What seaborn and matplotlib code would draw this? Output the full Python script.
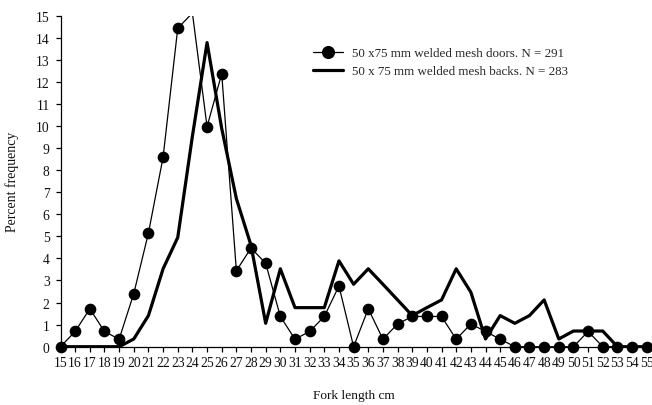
import numpy as np
import pandas as pd
import matplotlib
matplotlib.use("Agg")
import matplotlib.pyplot as plt
from matplotlib.lines import Line2D
import seaborn as sns

# Fork length classes (cm)
fork_length = list(range(15, 56))

# Percent frequency, 50 x 75 mm welded mesh doors (N = 291)
doors_pct = [0.00, 0.69, 1.72, 0.69, 0.34, 2.41, 5.15, 8.59, 14.43, 15.12,
             9.97, 12.37, 3.44, 4.47, 3.78, 1.37, 0.34, 0.69, 1.37, 2.75,
             0.00, 1.72, 0.34, 1.03, 1.37, 1.37, 1.37, 0.34, 1.03, 0.69,
             0.34, 0.00, 0.00, 0.00, 0.00, 0.00, 0.69, 0.00, 0.00, 0.00,
             0.00]

# Percent frequency, 50 x 75 mm welded mesh backs (N = 283)
backs_pct = [0.00, 0.00, 0.00, 0.00, 0.00, 0.35, 1.41, 3.53, 4.95, 9.54,
             13.78, 9.89, 6.71, 4.59, 1.06, 3.53, 1.77, 1.77, 1.77, 3.89,
             2.83, 3.53, 2.83, 2.12, 1.41, 1.77, 2.12, 3.53, 2.47, 0.35,
             1.41, 1.06, 1.41, 2.12, 0.35, 0.71, 0.71, 0.71, 0.00, 0.00,
             0.00]

doors_label = "50 x75 mm welded mesh doors. N = 291"
backs_label = "50 x 75 mm welded mesh backs. N = 283"

Y_MAX = 15

df = pd.DataFrame({"length": fork_length, "doors": doors_pct, "backs": backs_pct})

sns.set_theme(style="ticks")
plt.rcParams["font.family"] = ["Liberation Serif", "DejaVu Serif"]

fig = plt.figure(figsize=(6.52, 4.06), dpi=100)
ax = fig.add_axes([0.0928, 0.1436, 0.8991, 0.8153])

# Thick line: backs
sns.lineplot(data=df, x="length", y="backs", ax=ax, color="black",
             linewidth=2.3, zorder=2)
# Thin line: doors
sns.lineplot(data=df, x="length", y="doors", ax=ax, color="black",
             linewidth=0.9, zorder=3)
# Doors markers, only those inside the value range, drawn over the axis line
shown = df[df["doors"] <= Y_MAX]
sns.scatterplot(data=shown, x="length", y="doors", ax=ax, color="black",
                s=8.4 ** 2, edgecolor="black", linewidth=0, zorder=4,
                clip_on=False)

ax.set_xlim(15, 55)
ax.set_ylim(0, Y_MAX)
ax.set_xticks(fork_length)
ax.set_xticklabels([str(v) for v in fork_length])
ax.set_yticks(range(0, 16))
ax.margins(0)

for side in ("top", "right"):
    ax.spines[side].set_visible(False)
for side in ("left", "bottom"):
    ax.spines[side].set_color("black")
    ax.spines[side].set_linewidth(0.9)

ax.tick_params(axis="both", direction="out", length=3.8, width=0.9,
               color="black", labelsize=9.8, labelcolor="#111111")
ax.tick_params(axis="x", pad=3)
ax.tick_params(axis="y", pad=4)

ax.set_xlabel("Fork length cm", fontsize=9.6, labelpad=14, color="#111111")
ax.set_ylabel("Percent frequency", fontsize=9.9, labelpad=12, color="#111111")

handles = [
    Line2D([], [], color="black", linewidth=0.9, marker="o", markersize=8.4),
    Line2D([], [], color="black", linewidth=2.3),
]
ax.legend(handles, [doors_label, backs_label], loc="upper left",
          bbox_to_anchor=(0.43, 0.905), frameon=False, fontsize=9.4,
          handlelength=2.35, handletextpad=0.65, labelspacing=0.45,
          borderaxespad=0, borderpad=0)

fig.savefig("out.png", dpi=100)
